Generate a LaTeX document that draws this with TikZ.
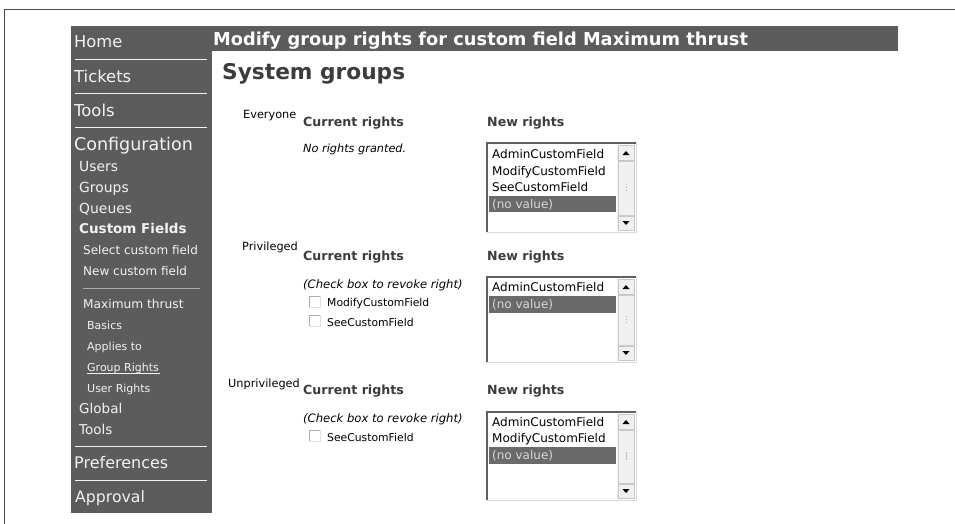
\documentclass[tikz,border=0pt]{standalone}
\usepackage{fontspec}
\setmainfont{DejaVu Sans}
\newcommand\fsz[1]{\fontsize{#1}{#1}\selectfont}
\definecolor{barc}{HTML}{5C5C5C}
\definecolor{framec}{HTML}{4A4A4A}
\definecolor{headc}{HTML}{3C3C3C}
\definecolor{sidetext}{HTML}{F2F2F2}
\definecolor{selc}{HTML}{6A6A6A}
\definecolor{seltext}{HTML}{D8D8D8}
\tikzset{
  side/.style={anchor=base west, inner sep=0pt, text=sidetext},
  lbl/.style={anchor=base west, inner sep=0pt, text=black},
  head/.style={anchor=base west, inner sep=0pt, text=headc, font=\bfseries\fsz{12.6}},
  item/.style={anchor=base west, inner sep=0pt, text=black, font=\fsz{12}},
  selitem/.style={anchor=base west, inner sep=0pt, text=seltext, font=\fsz{12}},
  sideline/.style={draw=sidetext, line width=1pt},
}
\newcommand\lbox[2]{%
  \fill[white] (487,#1) rectangle (636,#2);
  \draw[gray!30, line width=1pt] (636,#1) -- (636,#2) -- (487,#2);
  \draw[gray!75!black, line width=1.6pt] (487,#2) -- (487,#1) -- (636,#1);
  % scrollbar
  \fill[gray!12] (617,#1+1.5) rectangle (634.5,#2-1);
  \draw[gray!45, line width=0.8pt] (618,#1+2.5) rectangle (634,#1+17);
  \draw[gray!45, line width=0.8pt] (618,#2-16) rectangle (634,#2-2);
  \draw[gray!40, line width=0.8pt] (618,#1+18) rectangle (634,#2-17);
  \fill[black] (622.5,#1+12) -- (629.5,#1+12) -- (626,#1+8) -- cycle;
  \fill[black] (622.5,#2-11) -- (629.5,#2-11) -- (626,#2-7) -- cycle;
  \foreach \d in {-3,0,3} {\fill[gray!60] (625.5,{(#1+#2)/2+\d-0.6}) rectangle (626.5,{(#1+#2)/2+\d+0.6});}
}
\newcommand\cbox[2]{%
  \fill[white] (#1,#2) rectangle (#1+11,#2+11);
  \draw[gray!25, line width=0.8pt] (#1+11,#2) -- (#1+11,#2+11) -- (#1,#2+11);
  \draw[gray!65, line width=1pt] (#1,#2+11) -- (#1,#2) -- (#1+11,#2);
}
\begin{document}
\begin{tikzpicture}[x=1pt,y=-1pt]
\useasboundingbox (0,0) rectangle (955,524);
\fill[white] (0,0) rectangle (955,524);
% outer frame
\draw[framec, line width=1.5pt] (4.5,524) -- (4.5,9.5) -- (955,9.5);
% sidebar and title bar
\fill[barc] (71,26) rectangle (212,513);
\fill[barc] (211.5,26) rectangle (898,51);

% sidebar menu
\node[side, font=\fsz{16.3}] (home) at (74,48) {Home};
\draw[sideline] (75,60) -- (207,60);
\node[side, font=\fsz{16.4}] (tickets) at (74,83) {Tickets};
\draw[sideline] (75,94) -- (207,94);
\node[side, font=\fsz{16.4}] (tools1) at (74,117) {Tools};
\draw[sideline] (75,128) -- (207,128);
\node[side, font=\fsz{17.5}] (config) at (74,150) {Configuration};
\node[side, font=\fsz{13.9}] (users) at (79,171) {Users};
\node[side, font=\fsz{13.9}] (groups) at (79,192) {Groups};
\node[side, font=\fsz{13.9}] (queues) at (79,213) {Queues};
\node[side, font=\bfseries\fsz{13.5}] (cf) at (79,233) {Custom Fields};
\node[side, font=\fsz{12}] (selcf) at (83,254) {Select custom field};
\node[side, font=\fsz{12}] (newcf) at (83,275) {New custom field};
\draw[gray!65, line width=0.8pt] (83,288) -- (200,288);
\node[side, font=\fsz{12.2}] (maxt) at (83,308) {Maximum thrust};
\node[side, font=\fsz{11}] (basics) at (87,329) {Basics};
\node[side, font=\fsz{11}] (applies) at (87,350) {Applies to};
\node[side, font=\fsz{11}] (grights) at (87,371) {Group Rights};
\draw[sidetext, line width=0.7pt] (grights.base west) ++(0,2.2) -- ++(73,0);
\node[side, font=\fsz{11}] (urights) at (87,392) {User Rights};
\node[side, font=\fsz{13.5}] (global) at (79,413) {Global};
\node[side, font=\fsz{13.5}] (tools2) at (79,434) {Tools};
\draw[sideline] (75,446) -- (207,446);
\node[side, font=\fsz{16}] (prefs) at (74,468) {Preferences};
\draw[sideline] (75,480) -- (207,480);
\node[side, font=\fsz{15.7}] (approval) at (75,502) {Approval};

% title
\node[anchor=base west, inner sep=0pt, text=white, font=\bfseries\fsz{17.8}] (title) at (213,45.5) {Modify group rights for custom field Maximum thrust};
\node[anchor=base west, inner sep=0pt, text=headc, font=\bfseries\fsz{21.7}] (sysg) at (222,80) {System groups};

% Everyone
\node[lbl, font=\fsz{11.3}] (everyone) at (243,119) {Everyone};
\node[head] (cur1) at (303,126) {Current rights};
\node[head] (new1) at (487,126) {New rights};
\node[lbl, font=\itshape\fsz{11.3}] (norights) at (303,152) {No rights granted.};
\lbox{143}{232}
\fill[selc] (489,196) rectangle (616,212);
\node[item] (e1) at (492,158.5) {AdminCustomField};
\node[item] (e2) at (492,175) {ModifyCustomField};
\node[item] (e3) at (492,191.5) {SeeCustomField};
\node[selitem] (e4) at (492,208) {(no value)};

% Privileged
\node[lbl, font=\fsz{11.3}] (priv) at (242,250) {Privileged};
\node[head] (cur2) at (303,260) {Current rights};
\node[head] (new2) at (487,260) {New rights};
\node[lbl, font=\itshape\fsz{11.6}] (chk2) at (303,288) {(Check box to revoke right)};
\cbox{309}{296}
\node[lbl, font=\fsz{10.8}] (p1) at (327,306) {ModifyCustomField};
\cbox{309}{315}
\node[lbl, font=\fsz{10.8}] (p2) at (327,326) {SeeCustomField};
\lbox{277}{362}
\fill[selc] (489,296) rectangle (616,313);
\node[item] (f1) at (492,291.5) {AdminCustomField};
\node[selitem] (f2) at (492,308.5) {(no value)};

% Unprivileged
\node[lbl, font=\fsz{11.3}] (unpriv) at (228,387) {Unprivileged};
\node[head] (cur3) at (303,394) {Current rights};
\node[head] (new3) at (487,394) {New rights};
\node[lbl, font=\itshape\fsz{11.6}] (chk3) at (303,422) {(Check box to revoke right)};
\cbox{309}{430}
\node[lbl, font=\fsz{10.8}] (u1) at (327,441) {SeeCustomField};
\lbox{412}{500}
\fill[selc] (489,447) rectangle (616,464);
\node[item] (g1) at (492,426) {AdminCustomField};
\node[item] (g2) at (492,442.5) {ModifyCustomField};
\node[selitem] (g3) at (492,459) {(no value)};
\end{tikzpicture}
\end{document}
